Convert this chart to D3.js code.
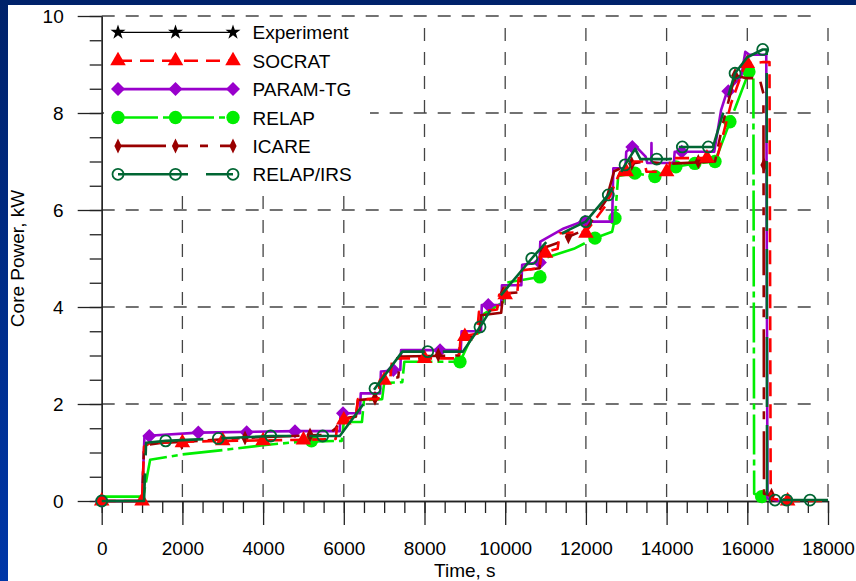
<!DOCTYPE html>
<html>
<head>
<meta charset="utf-8">
<script src="https://cdn.jsdelivr.net/npm/d3@7"></script>
<style>
  body { margin: 0; }
  svg { display: block; font-family: "Liberation Sans", Arial, sans-serif; }
</style>
</head>
<body>
<svg id="chart" width="856" height="581"></svg>
<script>
// ---- data (time in s, power in kW) ----
const xMajorTicks = [0, 2000, 4000, 6000, 8000, 10000, 12000, 14000, 16000, 18000];
const yMajorTicks = [0, 2, 4, 6, 8, 10];

const legendNames = ["Experiment", "SOCRAT", "PARAM-TG", "RELAP", "ICARE", "RELAP/IRS"];

const socratLine = [[0,0],[1000,0],[1050,1.12],[1200,1.2],[2000,1.22],[3000,1.24],[5000,1.26],[5800,1.28],[5850,1.67],[6300,1.72],[6350,2.1],[6850,2.1],[6900,2.49],[7150,2.5],[7200,2.94],[8850,2.94],[8900,3.39],[9300,3.45],[9350,3.9],[9800,3.95],[9850,4.25],[10300,4.3],[10350,4.75],[10850,4.8],[10900,5.11],[11300,5.2],[11350,5.52],[12000,5.55],[12500,6.1],[12700,6.5],[12850,6.79],[13000,6.79],[13200,7.0],[13450,7.0],[13500,6.79],[14050,6.79],[14100,7.07],[15250,7.07],[15600,8.2],[15900,8.9],[16000,9.02],[16400,9.05],[16550,9.05],[16580,0.05],[17000,0],[18000,0]];
const socratMarks = [[0,0],[1000,0],[2000,1.2],[3000,1.24],[4000,1.24],[5000,1.26],[6000,1.67],[7000,2.49],[8000,2.94],[9000,3.39],[10000,4.25],[11000,5.11],[12000,5.52],[13000,6.79],[14000,6.79],[15000,7.07],[16000,9.02],[17000,0]];

const paramLine = [[0,0],[1000,0],[1060,1.34],[2400,1.41],[4800,1.44],[5900,1.44],[5920,1.81],[6400,1.81],[6420,2.22],[6900,2.22],[6920,2.67],[7400,2.7],[7420,3.11],[8900,3.11],[8920,3.5],[9400,3.5],[9420,4.04],[9900,4.04],[9920,4.45],[10400,4.45],[10420,4.87],[10850,4.92],[10870,5.35],[11450,5.62],[11900,5.76],[12650,5.76],[12680,6.86],[12980,6.86],[13000,7.2],[13200,7.34],[13480,7.1],[13520,6.97],[13620,6.97],[13625,7.38],[13630,6.97],[14180,6.97],[14200,7.2],[15180,7.2],[15350,8.06],[15500,8.45],[15850,8.75],[15950,9.26],[16050,9.2],[16470,9.2],[16500,0.05],[16800,0]];
const paramMarks = [[0,0],[1180,1.34],[2394,1.41],[3593,1.42],[4790,1.44],[5980,1.81],[7227,2.7],[8385,3.11],[9580,4.04],[10860,4.92],[11977,5.76],[13150,7.3],[14375,7.2],[15530,8.45]];

const relapLine = [[0,0.09],[1030,0.09],[1200,0.85],[2000,0.96],[3000,1.05],[4000,1.15],[4900,1.22],[5950,1.24],[6000,1.63],[6450,1.63],[6500,2.08],[6950,2.1],[7000,2.43],[7450,2.45],[7500,2.87],[8880,2.87],[9150,3.35],[9400,3.5],[9450,3.85],[9950,4.1],[10000,4.5],[10450,4.56],[10862,4.62],[10950,5.0],[11700,5.2],[12225,5.42],[12650,5.55],[12720,5.83],[12800,6.7],[13215,6.76],[13710,6.69],[14230,6.89],[14700,6.96],[15200,7.0],[15570,7.82],[16040,8.85],[16150,8.9],[16170,0.15],[16355,0.09]];
const relapMarks = [[5200,1.24],[8880,2.87],[10862,4.62],[12225,5.42],[12720,5.83],[13215,6.76],[13710,6.69],[14230,6.89],[14700,6.96],[15200,7.0],[15570,7.82],[16040,8.85],[16355,0.09]];

const icareLine = [[0,0],[1000,0],[1050,1.15],[1500,1.2],[2000,1.22],[3500,1.3],[5000,1.35],[5600,1.36],[5800,1.5],[5950,1.7],[6300,1.74],[6350,2.08],[6850,2.12],[6900,2.5],[7350,2.55],[7400,2.98],[8850,3.0],[8900,3.35],[9350,3.4],[9400,3.83],[9900,3.88],[9950,4.28],[10350,4.3],[10400,4.75],[10850,4.8],[10900,5.2],[11400,5.35],[11566,5.45],[12000,5.6],[12500,6.2],[12700,6.8],[13135,6.96],[13500,7.0],[14000,6.95],[15200,7.0],[15400,7.8],[15696,8.78],[15950,8.72],[16300,8.72],[16400,8.4],[16414,0.15],[16600,0.12],[17000,0]];
const icareMarks = [[1983,1.2],[3552,1.3],[5163,1.36],[6773,2.12],[8342,3.01],[9950,4.28],[11566,5.45],[13135,6.96],[14785,7.0],[15696,8.78],[16414,6.93],[16600,0.12]];

const irsLine = [[0,0],[1050,0],[1100,1.2],[1586,1.24],[2890,1.29],[4188,1.34],[5900,1.34],[7450,3.08],[8950,3.08],[9375,3.59],[9790,4.14],[10657,5.0],[11030,5.35],[11600,5.6],[11995,5.76],[12555,6.31],[12970,6.93],[13220,7.26],[13350,7.05],[14100,7.05],[14120,7.3],[15150,7.3],[15696,8.82],[16000,9.15],[16382,9.31],[16480,9.31],[16490,0.05],[16700,0.02],[18000,0.02]];
const irsMarks = [[0,0],[1586,1.24],[2890,1.29],[4188,1.34],[5477,1.34],[6773,2.32],[8080,3.08],[9375,3.59],[10657,5.0],[11995,5.76],[12555,6.31],[12970,6.93],[13755,7.05],[14390,7.3],[15034,7.3],[15696,8.82],[16382,9.31],[16686,0.02],[16976,0.02],[17554,0.02]];

// ---- layout ----
const svg = d3.select("#chart");
const x = d3.scaleLinear().domain([0, 18000]).range([101.7, 828]);
const y = d3.scaleLinear().domain([0, 10]).range([501, 16]);

// blue slide background + white panel
const grad = svg.append("defs").append("linearGradient")
    .attr("id", "bg").attr("x1", 0).attr("y1", 0).attr("x2", 0).attr("y2", 1);
grad.append("stop").attr("offset", "0%").attr("stop-color", "#00226a");
grad.append("stop").attr("offset", "100%").attr("stop-color", "#0037a8");
svg.append("rect").attr("width", 856).attr("height", 581).attr("fill", "url(#bg)");
svg.append("rect").attr("x", 8).attr("y", 5).attr("width", 848).attr("height", 576).attr("fill", "#fff");

// dashed grid
const grid = svg.append("g").attr("stroke", "#444").attr("stroke-width", 1.3).attr("stroke-dasharray", "13,11");
grid.selectAll(".gx").data(xMajorTicks.slice(1)).enter().append("line")
    .attr("x1", d => x(d)).attr("x2", d => x(d))
    .attr("y1", y(10) + 12).attr("y2", y(0));
grid.selectAll(".gy").data(yMajorTicks.slice(1)).enter().append("line")
    .attr("x1", x(0)).attr("x2", x(18000) - 10)
    .attr("y1", d => y(d)).attr("y2", d => y(d));

// axes (major + minor ticks, outside)
function styleAxis(g) {
  g.selectAll("path, line").attr("stroke", "#222").attr("stroke-width", 1.3);
  g.selectAll("text").attr("fill", "#000").style("font-size", "19px")
    .style("font-family", "'Liberation Sans', Arial, sans-serif");
}
svg.append("g").attr("transform", `translate(0,${y(0)})`)
    .call(d3.axisBottom(x).tickValues(d3.range(0, 18001, 500)).tickSize(12).tickSizeOuter(0).tickFormat(""))
    .call(styleAxis);
svg.append("g").attr("transform", `translate(0,${y(0)})`)
    .call(d3.axisBottom(x).tickValues(xMajorTicks).tickSize(24).tickSizeOuter(0).tickPadding(17).tickFormat(d3.format("d")))
    .call(styleAxis);
svg.append("g").attr("transform", `translate(${x(0)},0)`)
    .call(d3.axisLeft(y).tickValues(d3.range(0, 10.01, 0.5)).tickSize(12).tickSizeOuter(0).tickFormat(""))
    .call(styleAxis);
svg.append("g").attr("transform", `translate(${x(0)},0)`)
    .call(d3.axisLeft(y).tickValues(yMajorTicks).tickSize(24).tickSizeOuter(0).tickPadding(14).tickFormat(d3.format("d")))
    .call(styleAxis);

// axis titles
svg.append("text")
    .attr("x", x(9000)).attr("y", 577)
    .attr("text-anchor", "middle").style("font-size", "19px")
    .text("Time, s");
svg.append("text")
    .attr("transform", `translate(24,${(y(0) + y(10)) / 2}) rotate(-90)`)
    .attr("text-anchor", "middle").style("font-size", "19px")
    .text("Core Power, kW");

// ---- marker shapes ----
const shapes = {
  star: d3.symbol().type(d3.symbolStar).size(70)(),
  triangle: d3.symbol().type(d3.symbolTriangle).size(105)(),
  diamond: "M0,-7L7,0L0,7L-7,0Z",
  thinDiamond: "M0,-7.5L3.6,0L0,7.5L-3.6,0Z",
  dot: d3.symbol().type(d3.symbolCircle).size(140)(),
  ring: d3.symbol().type(d3.symbolCircle).size(95)()
};

const series = [
  { name: "Experiment", line: [], marks: [], color: "#000", width: 1.2, dash: null, shape: "star", fill: "#000" },
  { name: "SOCRAT", line: socratLine, marks: socratMarks, color: "#ff0000", width: 2.6, dash: "14,8", shape: "triangle", fill: "#ff0000" },
  { name: "PARAM-TG", line: paramLine, marks: paramMarks, color: "#9900cc", width: 2.6, dash: null, shape: "diamond", fill: "#9900cc" },
  { name: "RELAP", line: relapLine, marks: relapMarks, color: "#00ee00", width: 2.6, dash: "40,5,6,5", shape: "dot", fill: "#00ee00" },
  { name: "ICARE", line: icareLine, marks: icareMarks, color: "#990000", width: 2.6, dash: "48,10,12,12,8,12", shape: "thinDiamond", fill: "#990000" },
  { name: "RELAP/IRS", line: irsLine, marks: irsMarks, color: "#006633", width: 2.6, dash: "70,18", shape: "ring", fill: "none" }
];

// legend box (covers the grid)
svg.append("rect").attr("x", 104).attr("y", 19).attr("width", 266).attr("height", 176).attr("fill", "#fff");
const legend = svg.append("g");
series.forEach((s, i) => {
  const ly = 32.3 + i * 28.4;
  const row = legend.append("g").attr("transform", `translate(0,${ly})`);
  row.append("line").attr("x1", 118).attr("x2", 233).attr("y1", 0).attr("y2", 0)
      .attr("stroke", s.color).attr("stroke-width", s.width)
      .attr("stroke-dasharray", s.dash);
  [118, 175.5, 233].forEach(mx => {
    row.append("path").attr("d", shapes[s.shape])
        .attr("transform", `translate(${mx},0)`)
        .attr("fill", s.fill).attr("stroke", s.fill === "none" ? s.color : "none")
        .attr("stroke-width", 1.8);
  });
  row.append("text").attr("x", 252.5).attr("y", 7).style("font-size", "19px").text(s.name);
});

// ---- curves ----
const line = d3.line().x(d => x(d[0])).y(d => y(d[1]));
const drawOrder = [3, 2, 4, 1, 5];
drawOrder.forEach(k => {
  const s = series[k];
  const g = svg.append("g");
  g.append("path").datum(s.line)
      .attr("d", line).attr("fill", "none")
      .attr("stroke", s.color).attr("stroke-width", s.width)
      .attr("stroke-linejoin", "round")
      .attr("stroke-dasharray", s.dash);
  g.selectAll("path.mark").data(s.marks).enter().append("path")
      .attr("class", "mark")
      .attr("d", shapes[s.shape])
      .attr("transform", d => `translate(${x(d[0])},${y(d[1])})`)
      .attr("fill", s.fill)
      .attr("stroke", s.fill === "none" ? s.color : "none")
      .attr("stroke-width", 1.8);
});
</script>
</body>
</html>
